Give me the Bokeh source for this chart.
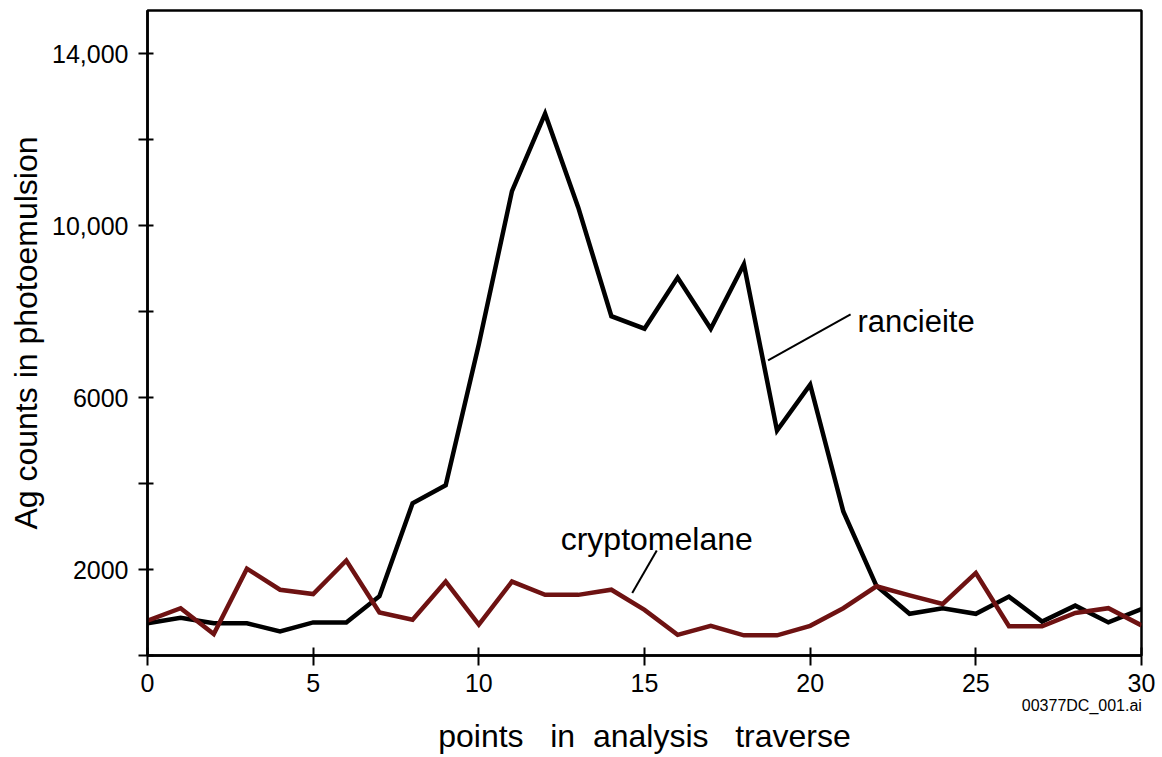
from bokeh.plotting import figure
from bokeh.models import Range1d, FixedTicker, Label, ColumnDataSource, LinearAxis
from bokeh.embed import file_html
from bokeh.resources import INLINE

# ---- data ----
points = list(range(31))
rancieite = [750, 880, 750, 750, 560, 770, 770, 1380, 3540, 3960, 7240, 10800,
             12600, 10420, 7890, 7600, 8790, 7600, 9100, 5230, 6300, 3350, 1620,
             970, 1100, 970, 1370, 790, 1160, 770, 1080]
cryptomelane = [810, 1100, 500, 2020, 1530, 1430, 2210, 1000, 830, 1720, 720, 1720,
                1410, 1410, 1530, 1060, 480, 690, 470, 470, 690, 1100, 1610, 1400,
                1200, 1920, 680, 680, 990, 1100, 700]
x_ticks = [0, 5, 10, 15, 20, 25, 30]
y_ticks = [0, 2000, 4000, 6000, 8000, 10000, 12000, 14000]
y_tick_labels = {0: "", 2000: "2000", 4000: "", 6000: "6000", 8000: "",
                 10000: "10,000", 12000: "", 14000: "14,000"}
file_tag = "00377DC_001.ai"

FONT = "Liberation Sans"
RED = "#6e1212"

p = figure(width=1162, height=757, x_range=Range1d(0, 30), y_range=Range1d(0, 15000),
           output_backend="svg", toolbar_location=None,
           min_border_left=147, min_border_top=10, min_border_right=21, min_border_bottom=102)
p.background_fill_color = "white"
p.border_fill_color = "white"
p.grid.visible = False
p.outline_line_color = "black"
p.outline_line_width = 2.5

for ax in (p.xaxis[0], p.yaxis[0]):
    ax.axis_line_width = 2.5
    ax.axis_line_color = "black"
    ax.major_tick_line_width = 2
    ax.major_tick_line_color = "black"
    ax.minor_tick_line_color = None
    ax.major_label_text_font = FONT
    ax.major_label_text_font_size = "25px"
    ax.major_label_text_color = "black"
    ax.axis_label_text_font = FONT
    ax.axis_label_text_font_size = "32px"
    ax.axis_label_text_font_style = "normal"
    ax.axis_label_text_color = "black"

xa = p.xaxis[0]
xa.ticker = FixedTicker(ticks=x_ticks)
xa.major_tick_in = 8
xa.major_tick_out = 10
xa.major_label_standoff = 8

# second (invisible) bottom axis carrying the file tag and the axis title
xb = LinearAxis(ticker=FixedTicker(ticks=[28.2]), major_label_overrides={28.2: file_tag},
                axis_line_color=None, major_tick_line_color=None, minor_tick_line_color=None,
                major_tick_in=0, major_tick_out=0, major_label_standoff=2,
                major_label_text_font=FONT, major_label_text_font_size="16px",
                major_label_text_color="black",
                axis_label="points\u00a0\u00a0 in\u00a0 analysis\u00a0\u00a0 traverse",
                axis_label_text_font=FONT, axis_label_text_font_size="32px",
                axis_label_text_font_style="normal", axis_label_text_color="black",
                axis_label_standoff=1)
p.add_layout(xb, "below")

ya = p.yaxis[0]
ya.ticker = FixedTicker(ticks=y_ticks)
ya.major_label_overrides = y_tick_labels
ya.major_tick_in = 6
ya.major_tick_out = 9
ya.major_label_standoff = 10
ya.axis_label = "Ag counts in photoemulsion"
ya.axis_label_standoff = 5

src = ColumnDataSource(dict(x=points, r=rancieite, c=cryptomelane))
p.line("x", "r", source=src, line_color="black", line_width=4.5, line_join="miter")
p.line("x", "c", source=src, line_color=RED, line_width=4.5, line_join="miter")

# annotations
p.add_layout(Label(x=21.43, y=7764, text="rancieite", text_font=FONT,
                   text_font_size="31px", text_color="black", text_baseline="alphabetic"))
p.add_layout(Label(x=15.37, y=2702, text="cryptomelane", text_font=FONT,
                   text_font_size="32px", text_color="black", text_align="center",
                   text_baseline="alphabetic"))
p.segment(x0=[18.73, 15.37], y0=[6865, 2439], x1=[21.22, 14.63], y1=[7936, 1451],
          line_color="black", line_width=2)

open("out.html", "w").write(file_html(p, INLINE))
